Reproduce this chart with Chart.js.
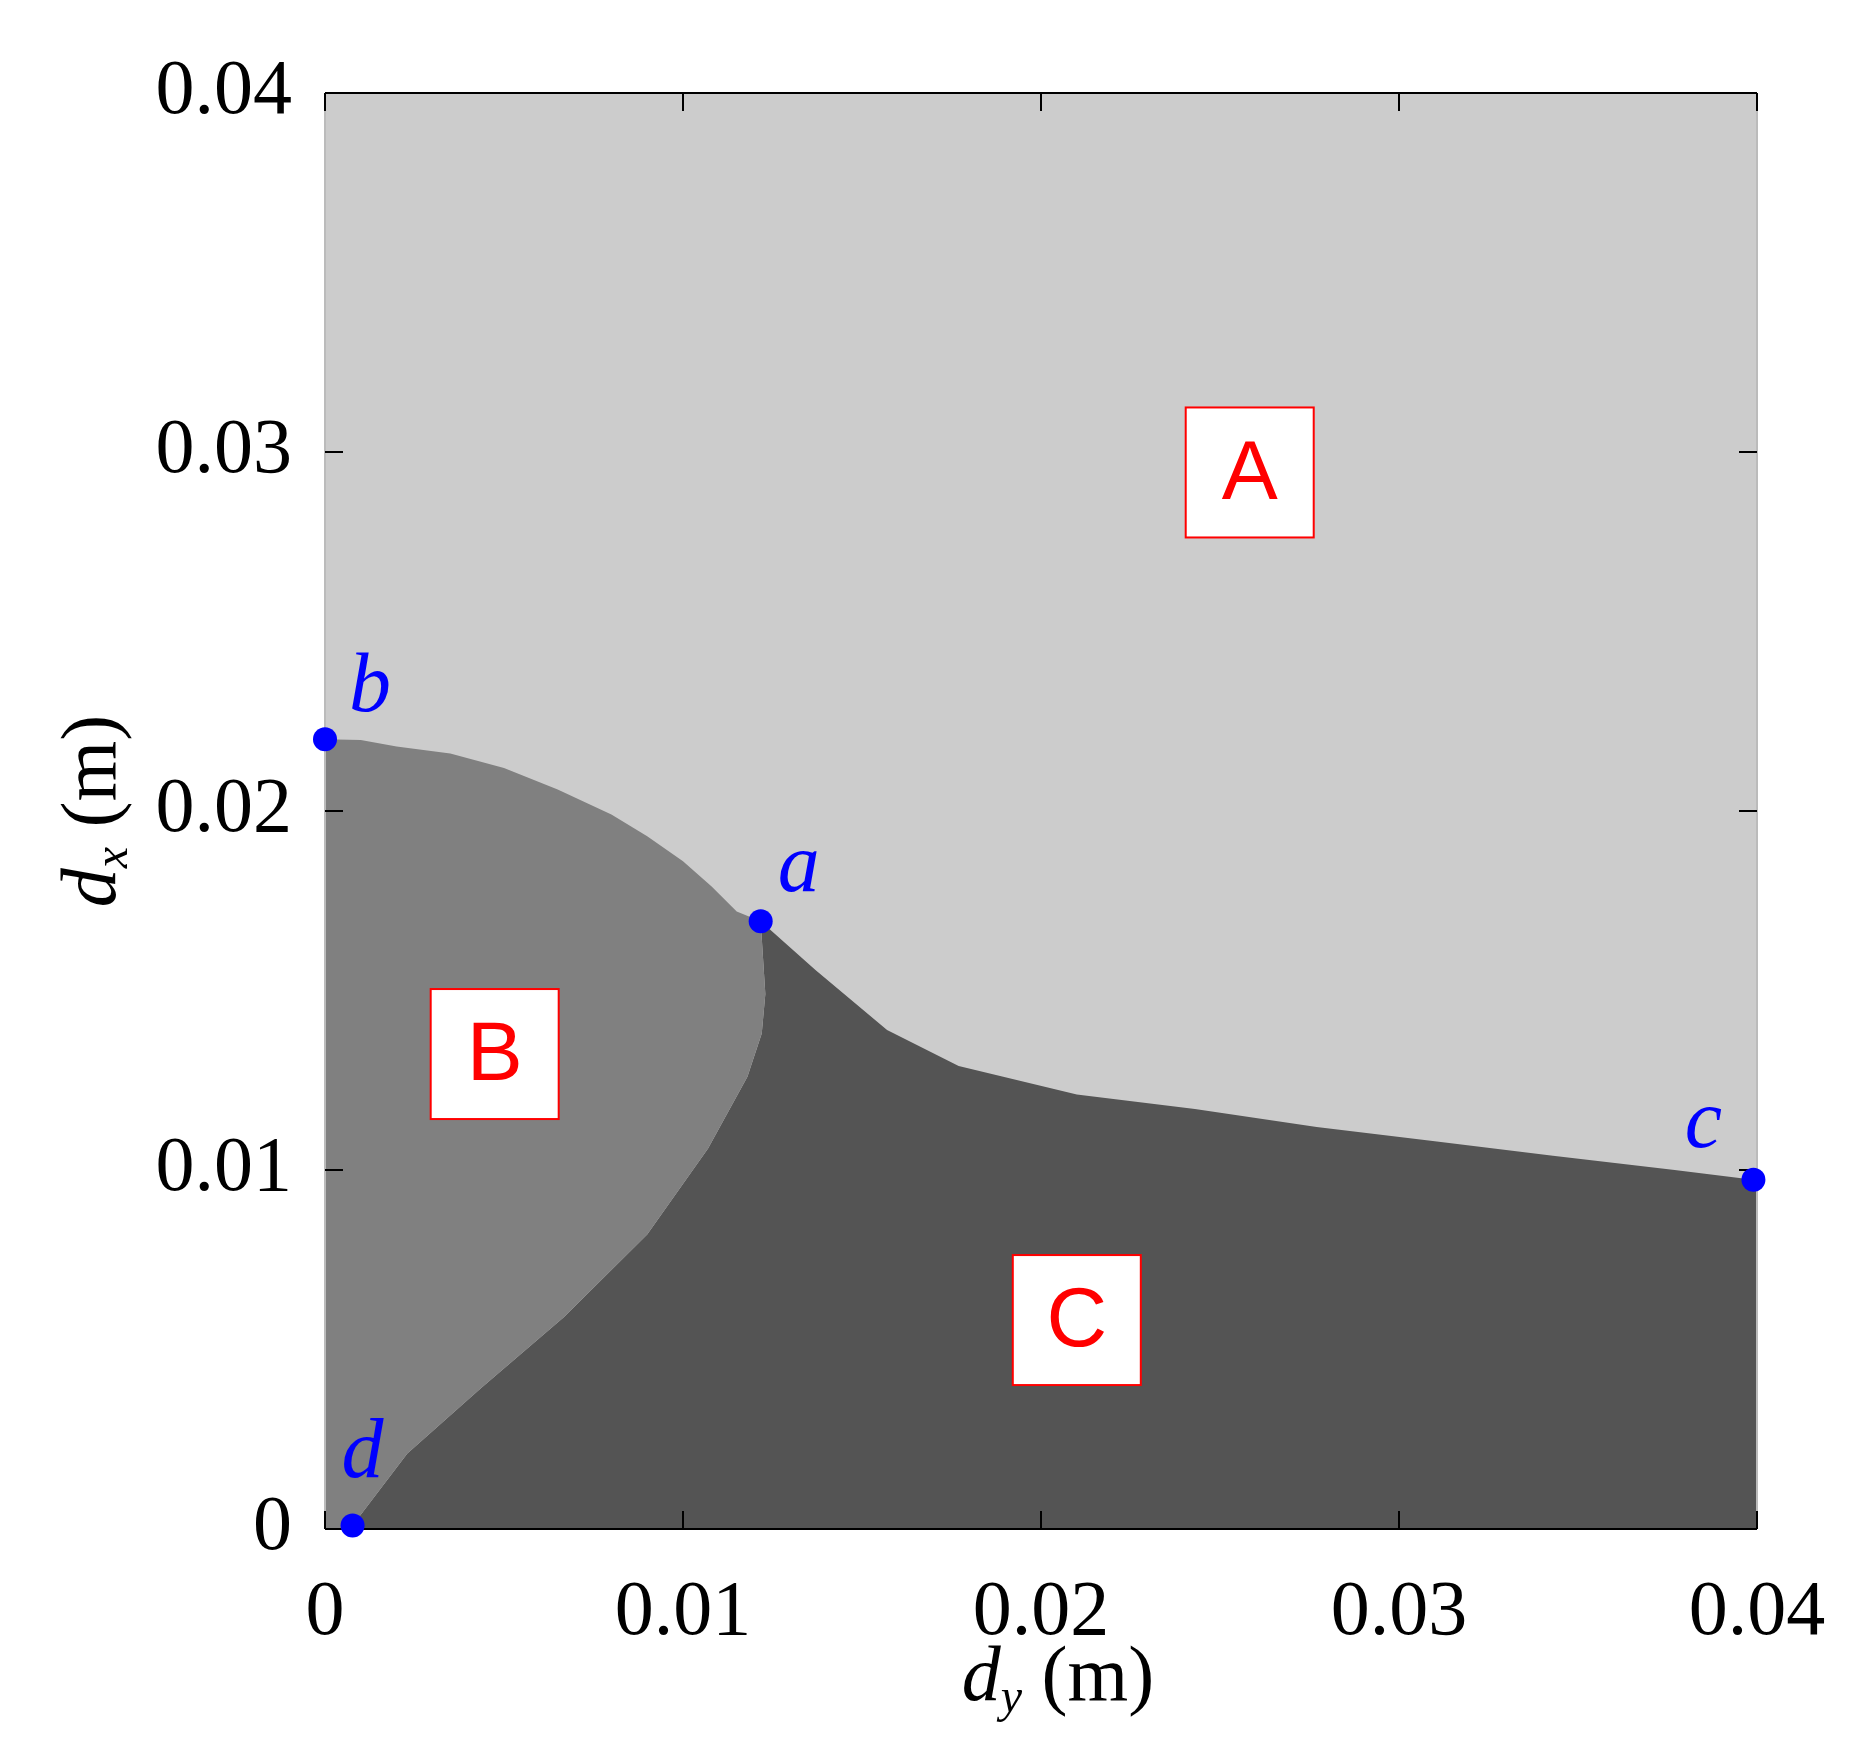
<!DOCTYPE html>
<html><head><meta charset="utf-8">
<script src="https://cdn.jsdelivr.net/npm/chart.js@4.4.0/dist/chart.umd.min.js"></script>
<style>html,body{margin:0;padding:0;background:#fff}#w{width:1875px;height:1749px}</style>
</head><body><div id="w"><canvas id="c"></canvas></div>
<script>
// Boundary A-B: from b to a (dy, dx)
const boundaryAB_x = [0, 0.001, 0.002, 0.0035, 0.005, 0.0065, 0.008, 0.009, 0.010, 0.0108, 0.0115, 0.01217];
const boundaryAB_y = [0.0220, 0.02198, 0.0218, 0.0216, 0.0212, 0.0206, 0.0199, 0.0193, 0.0186, 0.0179, 0.0172, 0.01693];
// Boundary B-C: from a down to d
const boundaryBC_x = [0.01217, 0.0123, 0.0122, 0.0118, 0.0107, 0.0090, 0.00667, 0.00433, 0.0023, 0.00077];
const boundaryBC_y = [0.01693, 0.0149, 0.0138, 0.0126, 0.0106, 0.0082, 0.0059, 0.0039, 0.0021, 0.0001];
// Boundary A-C: from a to c
const boundaryAC_x = [0.01217, 0.0137, 0.0157, 0.0177, 0.021, 0.0243, 0.0277, 0.031, 0.0343, 0.0377, 0.0399, 0.04];
const boundaryAC_y = [0.01693, 0.01557, 0.0139, 0.0129, 0.0121, 0.0117, 0.0112, 0.0108, 0.0104, 0.0100, 0.00973, 0.0097];
// Marked points
const pointNames = ['a', 'b', 'c', 'd'];
const pointX = [0.01217, 0, 0.0399, 0.00077];
const pointY = [0.01693, 0.0220, 0.00973, 0.0001];
// Region labels
const regionNames = ['A', 'B', 'C'];
const regionX = [0.02583, 0.00474, 0.0210];
const regionY = [0.02943, 0.01323, 0.00582];
const tickValues = [0, 0.01, 0.02, 0.03, 0.04];

const zip = (xs, ys) => xs.map((x, i) => ({x, y: ys[i]}));
const regionB = zip(boundaryAB_x, boundaryAB_y).concat(zip(boundaryBC_x, boundaryBC_y).slice(1));
const regionC = zip(boundaryBC_x.slice().reverse(), boundaryBC_y.slice().reverse())
  .concat(zip(boundaryAC_x, boundaryAC_y).slice(1));
const markers = zip(pointX, pointY);
const SERIF = '"Liberation Serif", "DejaVu Serif", serif';

const deco = {
  id: 'deco',
  beforeDraw(ch) {
    const a = ch.chartArea, g = ch.ctx;
    g.save(); g.fillStyle = '#cccccc'; g.fillRect(a.left, a.top, a.right - a.left, a.bottom - a.top); g.restore();
  },
  beforeDatasetsDraw(ch) {
    const g = ch.ctx, xs = ch.scales.x, ys = ch.scales.y;
    g.save();
    [2, 1].forEach(di => {
      const ds = ch.data.datasets[di], pts = ds.data;
      g.beginPath();
      pts.forEach((p, i) => {
        const px = xs.getPixelForValue(p.x), py = ys.getPixelForValue(p.y);
        i ? g.lineTo(px, py) : g.moveTo(px, py);
      });
      g.lineTo(xs.getPixelForValue(pts[pts.length - 1].x), ys.getPixelForValue(0));
      g.lineTo(xs.getPixelForValue(pts[0].x), ys.getPixelForValue(0));
      g.closePath();
      g.fillStyle = ds.backgroundColor; g.fill();
    });
    g.restore();
  },
  afterDraw(ch) {
    const a = ch.chartArea, g = ch.ctx, xs = ch.scales.x, ys = ch.scales.y;
    g.save();
    g.strokeStyle = '#000'; g.lineWidth = 2;
    g.beginPath(); g.moveTo(a.left, a.top); g.lineTo(a.right, a.top);
    g.moveTo(a.left, a.bottom); g.lineTo(a.right, a.bottom); g.stroke();
    g.strokeStyle = '#bbbbbb';
    g.beginPath(); g.moveTo(a.left, a.top); g.lineTo(a.left, a.bottom);
    g.moveTo(a.right, a.top); g.lineTo(a.right, a.bottom); g.stroke();
    g.strokeStyle = '#000';
    const L = 18;
    tickValues.forEach(v => {
      const px = xs.getPixelForValue(v), py = ys.getPixelForValue(v);
      g.beginPath();
      g.moveTo(px, a.bottom); g.lineTo(px, a.bottom - L);
      g.moveTo(px, a.top); g.lineTo(px, a.top + L);
      g.moveTo(a.left, py); g.lineTo(a.left + L, py);
      g.moveTo(a.right, py); g.lineTo(a.right - L, py);
      g.stroke();
    });
    // markers on top
    g.fillStyle = '#0000ff';
    markers.forEach(p => { g.beginPath(); g.arc(xs.getPixelForValue(p.x), ys.getPixelForValue(p.y), 12, 0, Math.PI * 2); g.fill(); });
    const off = {a: [38, -52], b: [45, -50], c: [-50, -55], d: [10, -70]};
    g.font = 'italic 84px ' + SERIF; g.textAlign = 'center'; g.textBaseline = 'middle';
    pointNames.forEach((n, i) => {
      const px = xs.getPixelForValue(pointX[i]), py = ys.getPixelForValue(pointY[i]);
      g.fillText(n, px + off[n][0], py + off[n][1]);
    });
    regionNames.forEach((n, i) => {
      const px = xs.getPixelForValue(regionX[i]), py = ys.getPixelForValue(regionY[i]);
      g.fillStyle = '#fff'; g.fillRect(px - 64, py - 65, 128, 130);
      g.strokeStyle = '#ff0000'; g.lineWidth = 2; g.strokeRect(px - 64, py - 65, 128, 130);
      g.fillStyle = '#ff0000'; g.font = '84px "Liberation Sans", Arial, sans-serif';
      g.fillText(n, px, py + 3);
    });
    g.fillStyle = '#000';
    const title = (x, y, rot, sub) => {
      g.save(); g.translate(x, y); g.rotate(rot);
      g.textBaseline = 'alphabetic'; g.textAlign = 'left';
      g.font = 'italic 78px ' + SERIF; const wd = g.measureText('d').width;
      g.font = 'italic 48px ' + SERIF; const ws = g.measureText(sub).width;
      g.font = '78px ' + SERIF; const wm = g.measureText(' (m)').width;
      let s = -(wd + ws + wm) / 2;
      g.font = 'italic 78px ' + SERIF; g.fillText('d', s, 0); s += wd;
      g.font = 'italic 48px ' + SERIF; g.fillText(sub, s, 12); s += ws;
      g.font = '78px ' + SERIF; g.fillText(' (m)', s, 0);
      g.restore();
    };
    title(1058, 1700, 0, 'y');
    title(115, 811, -Math.PI / 2, 'x');
    g.restore();
  }
};

new Chart(document.getElementById('c'), {
  type: 'scatter',
  data: { datasets: [
    { data: markers, backgroundColor: 'rgba(0,0,0,0)', borderColor: 'rgba(0,0,0,0)', pointRadius: 0, showLine: false },
    { data: regionB, showLine: false, backgroundColor: '#808080', borderColor: 'rgba(0,0,0,0)', pointRadius: 0 },
    { data: regionC, showLine: false, backgroundColor: '#545454', borderColor: 'rgba(0,0,0,0)', pointRadius: 0 }
  ]},
  options: {
    responsive: true, maintainAspectRatio: false, animation: false,
    layout: { padding: { top: 93, right: 118, left: 0, bottom: 0 } },
    plugins: { legend: { display: false }, tooltip: { enabled: false } },
    scales: {
      x: { type: 'linear', min: 0, max: 0.04, grid: { display: false }, border: { display: false },
        afterBuildTicks: s => { s.ticks = tickValues.map(v => ({value: v})); },
        afterFit: s => { s.height = 220; },
        ticks: { padding: 30, color: '#000', font: { family: SERIF, size: 78 }, maxRotation: 0,
          callback: v => (v === 0 ? '0' : String(+v.toFixed(2))) } },
      y: { type: 'linear', min: 0, max: 0.04, grid: { display: false }, border: { display: false },
        afterBuildTicks: s => { s.ticks = tickValues.map(v => ({value: v})); },
        afterFit: s => { s.width = 325; },
        ticks: { padding: 25, color: '#000', font: { family: SERIF, size: 78 },
          callback: v => (v === 0 ? '0' : String(+v.toFixed(2))) } }
    }
  },
  plugins: [deco]
});
</script></body></html>
